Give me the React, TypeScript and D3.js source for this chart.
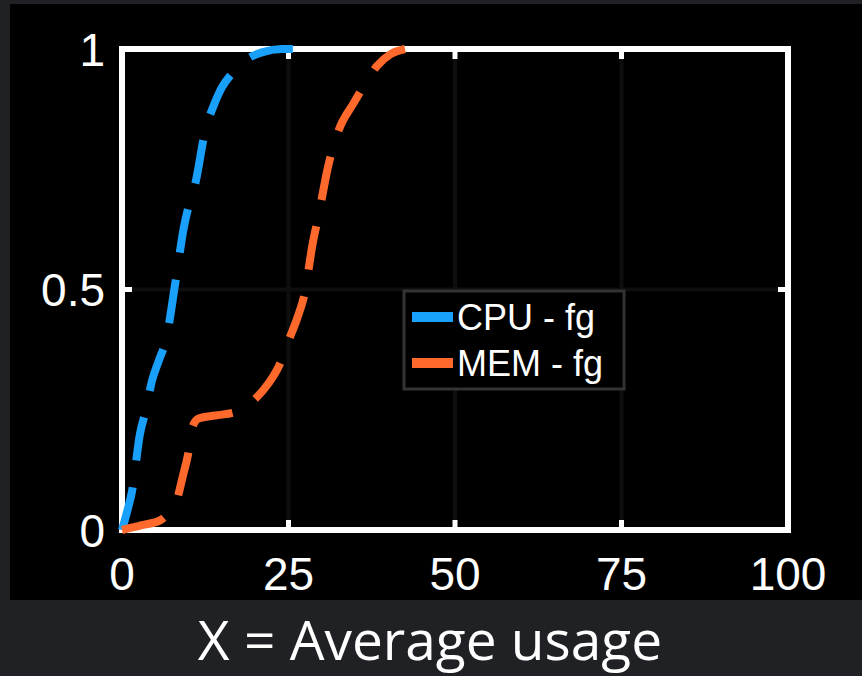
import React, { useEffect, useRef } from 'react';
import * as d3 from 'd3';

const W = 862;
const H = 676;

const xTicks = [0, 25, 50, 75, 100];
const yTicks = [0, 0.5, 1];
const yTickLabels = ['0', '0.5', '1'];

const seriesNames = ['CPU - fg', 'MEM - fg'];
const seriesColors = ['#18a0fb', '#ff6a2c'];

// CDF of CPU usage (fg)
const cpuX = [0, 0.8, 1.5, 2.7, 3.6, 4.5, 5.55, 6.6, 8.0, 9.3, 10.1, 11, 12.6, 13.7, 15, 16.9, 18.9, 21, 24, 28];
const cpuY = [0, 0.04, 0.08, 0.2, 0.25, 0.31, 0.353, 0.395, 0.513, 0.63, 0.678, 0.72, 0.837, 0.88, 0.92, 0.955, 0.98, 0.993, 1, 1];

// CDF of memory usage (fg)
const memX = [0, 3, 5.7, 7.2, 8.3, 9.1, 9.9, 10.6, 11.5, 14, 17, 18.8, 20.1, 22, 23.7, 24.9, 26.3, 27.4, 28.6, 29.6, 30.9, 32.5, 34.8, 36.3, 38.3, 40.4, 42.5];
const memY = [0, 0.01, 0.02, 0.04, 0.066, 0.11, 0.156, 0.215, 0.232, 0.238, 0.245, 0.258, 0.274, 0.305, 0.345, 0.39, 0.44, 0.49, 0.593, 0.66, 0.753, 0.83, 0.888, 0.923, 0.965, 0.99, 1];

const title = 'X = Average usage';

const App = () => {
  const svgRef = useRef(null);

  useEffect(() => {
    const svg = d3.select(svgRef.current);
    svg.selectAll('*').remove();

    const left = 122, right = 788, top = 49, bottom = 530;
    const x = d3.scaleLinear().domain([0, 100]).range([left, right]);
    const y = d3.scaleLinear().domain([0, 1]).range([bottom, top]);

    svg.append('rect').attr('width', W).attr('height', H).attr('fill', '#1f2125');
    svg.append('rect').attr('x', 10).attr('y', 4).attr('width', W - 10).attr('height', 596).attr('fill', '#000');

    // grid
    const grid = svg.append('g').attr('stroke', '#0e0e0e').attr('stroke-width', 4);
    xTicks.slice(1, -1).forEach((t) => {
      grid.append('line').attr('x1', x(t)).attr('x2', x(t)).attr('y1', top).attr('y2', bottom);
    });
    yTicks.slice(1, -1).forEach((t) => {
      grid.append('line').attr('x1', left).attr('x2', right).attr('y1', y(t)).attr('y2', y(t));
    });

    // axis box and ticks
    const axis = svg.append('g').attr('stroke', '#fff').attr('fill', 'none');
    axis.append('rect')
      .attr('x', left).attr('y', top)
      .attr('width', right - left).attr('height', bottom - top)
      .attr('stroke-width', 6);
    xTicks.forEach((t) => {
      axis.append('line').attr('x1', x(t)).attr('x2', x(t)).attr('y1', bottom).attr('y2', bottom - 10).attr('stroke-width', 5);
      axis.append('line').attr('x1', x(t)).attr('x2', x(t)).attr('y1', top).attr('y2', top + 10).attr('stroke-width', 5);
    });
    yTicks.forEach((t) => {
      axis.append('line').attr('x1', left).attr('x2', left + 10).attr('y1', y(t)).attr('y2', y(t)).attr('stroke-width', 5);
      axis.append('line').attr('x1', right).attr('x2', right - 10).attr('y1', y(t)).attr('y2', y(t)).attr('stroke-width', 5);
    });

    const font = '"Liberation Sans", Arial, Helvetica, sans-serif';
    svg.append('g')
      .selectAll('text')
      .data(xTicks)
      .join('text')
      .attr('x', (d) => x(d))
      .attr('y', 590)
      .attr('text-anchor', 'middle')
      .attr('font-family', font)
      .attr('font-size', 46)
      .attr('fill', '#fff')
      .text((d) => d);

    svg.append('g')
      .selectAll('text')
      .data(yTicks)
      .join('text')
      .attr('x', left - 17)
      .attr('y', (d) => y(d) + 16.5)
      .attr('text-anchor', 'end')
      .attr('font-family', font)
      .attr('font-size', 46)
      .attr('fill', '#fff')
      .text((d, i) => yTickLabels[i]);

    const line = d3.line()
      .x((d) => x(d[0]))
      .y((d) => y(d[1]))
      .curve(d3.curveMonotoneX);

    const series = [
      d3.zip(cpuX, cpuY),
      d3.zip(memX, memY),
    ];

    series.forEach((s, i) => {
      svg.append('path')
        .datum(s)
        .attr('d', line)
        .attr('fill', 'none')
        .attr('stroke', seriesColors[i])
        .attr('stroke-width', 8)
        .attr('stroke-dasharray', '44 27');
    });

    // legend
    const lg = svg.append('g');
    lg.append('rect')
      .attr('x', 404).attr('y', 291).attr('width', 220).attr('height', 98)
      .attr('fill', '#000').attr('stroke', '#333').attr('stroke-width', 3);
    seriesNames.forEach((name, i) => {
      const cy = 317 + i * 46;
      lg.append('line')
        .attr('x1', 412).attr('x2', 453).attr('y1', cy).attr('y2', cy)
        .attr('stroke', seriesColors[i]).attr('stroke-width', 10);
      lg.append('text')
        .attr('x', 457).attr('y', cy + 13)
        .attr('font-family', font)
        .attr('font-size', 36)
        .attr('fill', '#fff')
        .text(name);
    });

    svg.append('text')
      .attr('x', 430).attr('y', 660)
      .attr('text-anchor', 'middle')
      .attr('font-family', '"Open Sans", "Noto Sans", sans-serif')
      .attr('font-size', 55)
      .attr('fill', '#fff')
      .text(title);
  }, []);

  return (
    <svg
      ref={svgRef}
      width={W}
      height={H}
      style={{ position: 'fixed', left: 0, top: 0, display: 'block' }}
    />
  );
};

export default App;
